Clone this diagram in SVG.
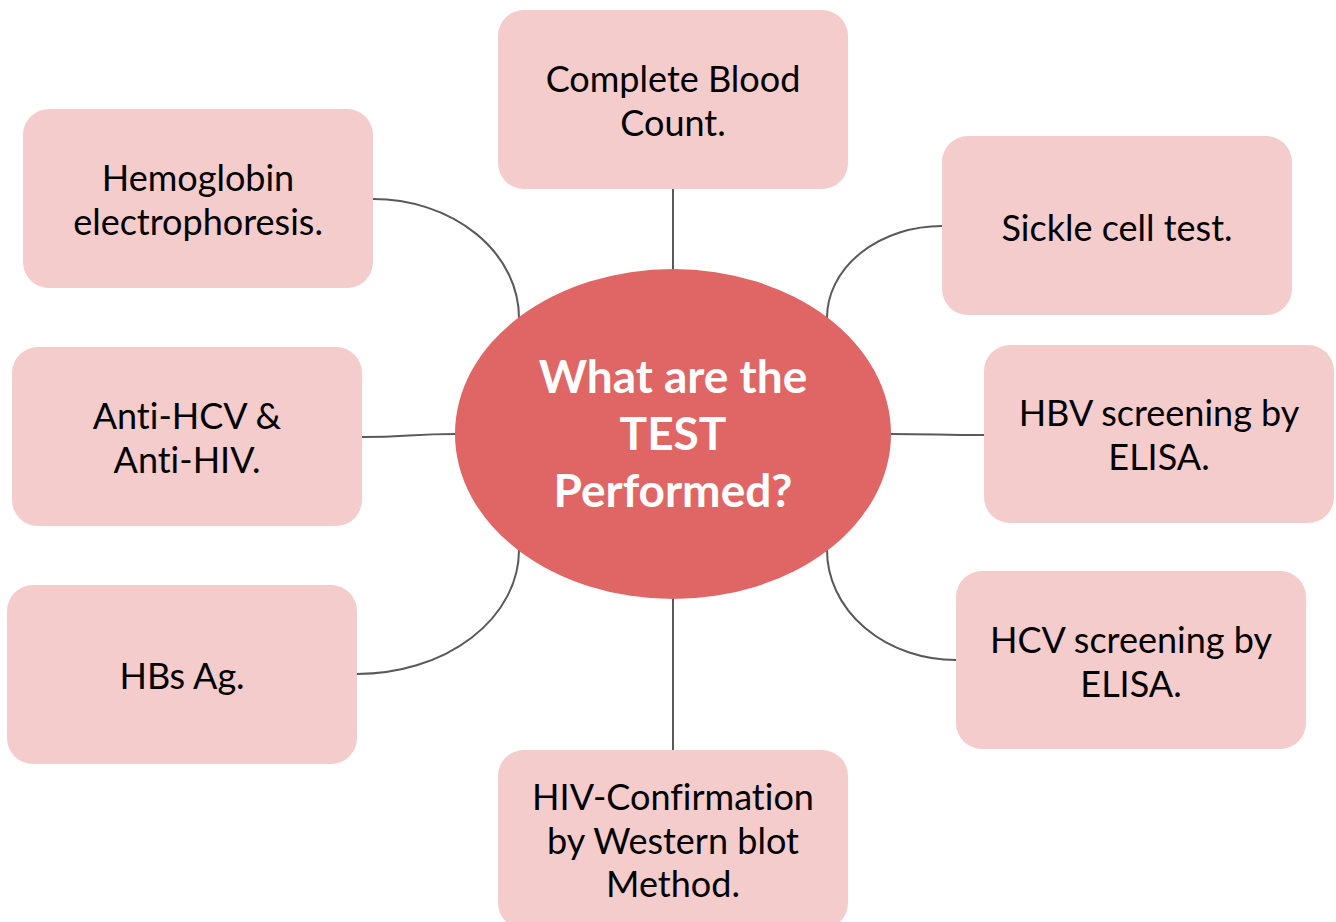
<svg xmlns="http://www.w3.org/2000/svg" width="1336" height="922" viewBox="0 0 1336 922">
<style>
.box{fill:#f4cccc}
.lbl{font-family:Lato,"Open Sans","Liberation Sans",sans-serif;font-size:36px;fill:#000;text-anchor:middle;font-variant-ligatures:none}
.ctr{font-family:Lato,"Open Sans","Liberation Sans",sans-serif;font-size:46px;font-weight:bold;fill:#fff;text-anchor:middle;font-variant-ligatures:none}
.con{fill:none;stroke:#595959;stroke-width:2}
</style>
<rect width="1336" height="922" fill="#fff"/>
<g id="connectors">
<path class="con" d="M673,189 L673,270"/>
<path class="con" d="M673,598 L673,750"/>
<path class="con" d="M373,199 A146,119 0 0 1 519,318"/>
<path class="con" d="M942,226 A115,92 0 0 0 827,318"/>
<path class="con" d="M362,437 C408,437 410,434 456,434"/>
<path class="con" d="M890,434 C937,434 937,435 984,435"/>
<path class="con" d="M357,674 A162,124 0 0 0 519,550"/>
<path class="con" d="M956,660 A129,110 0 0 1 827,550"/>
</g>
<g id="center">
<ellipse cx="673" cy="434" rx="218" ry="165" fill="#e06666"/>
<text class="ctr" x="673" y="393">What are the</text>
<text class="ctr" x="673" y="450">TEST</text>
<text class="ctr" x="673" y="507">Performed?</text>
</g>
<g id="cbc">
<rect class="box" x="498" y="10" width="350" height="179" rx="26"/>
<text class="lbl" x="673" y="92">Complete Blood</text>
<text class="lbl" x="673" y="136">Count.</text>
</g>
<g id="hemoglobin">
<rect class="box" x="23" y="109" width="350" height="179" rx="26"/>
<text class="lbl" x="198" y="191">Hemoglobin</text>
<text class="lbl" x="198" y="235">electrophoresis.</text>
</g>
<g id="sickle">
<rect class="box" x="942" y="136" width="350" height="179" rx="26"/>
<text class="lbl" x="1117" y="241">Sickle cell test.</text>
</g>
<g id="antihcv">
<rect class="box" x="12" y="347" width="350" height="179" rx="26"/>
<text class="lbl" x="187" y="429">Anti-HCV &amp;</text>
<text class="lbl" x="187" y="473">Anti-HIV.</text>
</g>
<g id="hbv">
<rect class="box" x="984" y="345" width="350" height="178" rx="26"/>
<text class="lbl" x="1159" y="426">HBV screening by</text>
<text class="lbl" x="1159" y="470">ELISA.</text>
</g>
<g id="hcv">
<rect class="box" x="956" y="571" width="350" height="178" rx="26"/>
<text class="lbl" x="1131" y="653">HCV screening by</text>
<text class="lbl" x="1131" y="697">ELISA.</text>
</g>
<g id="hbsag">
<rect class="box" x="7" y="585" width="350" height="179" rx="26"/>
<text class="lbl" x="182" y="689">HBs Ag.</text>
</g>
<g id="hiv">
<rect class="box" x="498" y="750" width="350" height="179" rx="26"/>
<text class="lbl" x="673" y="810">HIV-Confirmation</text>
<text class="lbl" x="673" y="854">by Western blot</text>
<text class="lbl" x="673" y="897">Method.</text>
</g>
</svg>
